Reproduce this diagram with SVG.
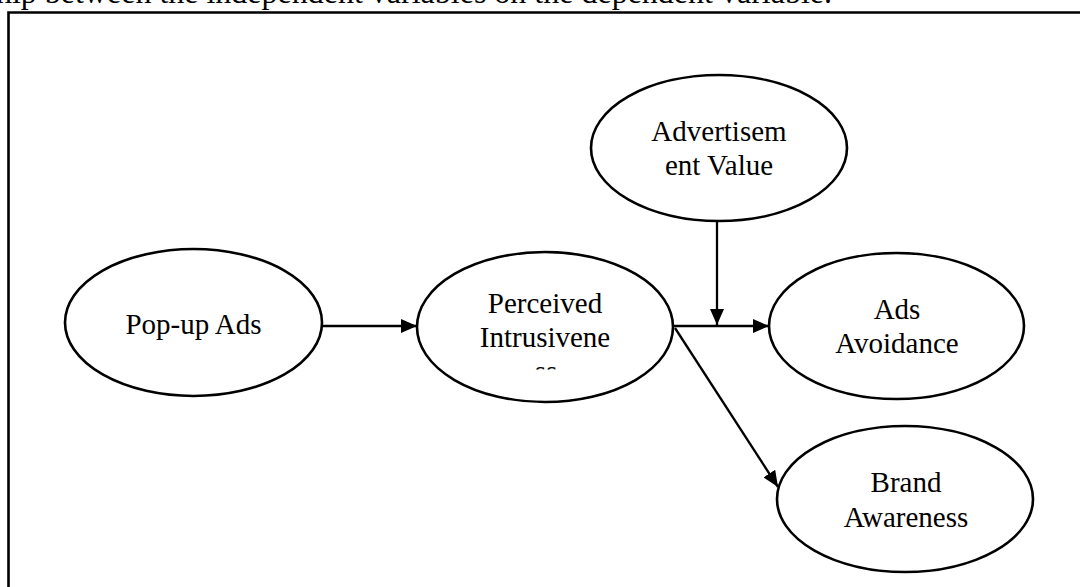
<svg xmlns="http://www.w3.org/2000/svg" width="1080" height="587" viewBox="0 0 1080 587">
  <style>
    .node { fill: #ffffff; stroke: #000000; stroke-width: 2.6; }
    .label { font-family: "Liberation Serif", "Times New Roman", serif; font-size: 29px; fill: #000000; text-anchor: middle; }
    .edge { stroke: #000000; stroke-width: 2.3; fill: none; marker-end: url(#arrow); }
    .caption { font-family: "Liberation Serif", "Times New Roman", serif; font-size: 32px; fill: #000000; text-anchor: end; }
  </style>
  <defs>
    <marker id="arrow" viewBox="0 0 16 14" refX="16" refY="7" markerWidth="16" markerHeight="14" markerUnits="userSpaceOnUse" orient="auto">
      <path d="M0,0 L16,7 L0,14 Z" fill="#000000"/>
    </marker>
    <clipPath id="clipPI">
      <rect x="440" y="280" width="210" height="89.5"/>
    </clipPath>
  </defs>
  <rect x="0" y="0" width="1080" height="587" fill="#ffffff"/>
  <text class="caption" x="832" y="3">hip between the independent variables on the dependent variable.</text>
  <g id="frame">
    <path d="M8.5,587 L8.5,12.5 L1080,12.5" fill="none" stroke="#000000" stroke-width="2.6"/>
  </g>
  <g id="connectors">
    <line class="edge" x1="322" y1="326" x2="417" y2="326"/>
    <line class="edge" x1="673" y1="326" x2="769" y2="326"/>
    <line class="edge" x1="717" y1="221" x2="717" y2="325"/>
    <line class="edge" x1="675" y1="328" x2="778" y2="487"/>
  </g>
  <g id="popup-ads">
    <ellipse class="node" cx="193.5" cy="322.5" rx="128.5" ry="73.5"/>
    <text class="label" x="193.5" y="334">Pop-up Ads</text>
  </g>
  <g id="perceived-intrusiveness">
    <ellipse class="node" cx="545" cy="327" rx="128" ry="75"/>
    <g clip-path="url(#clipPI)">
      <text class="label" x="545" y="313">Perceived</text>
      <text class="label" x="545" y="347">Intrusivene</text>
      <text class="label" x="546" y="381">ss</text>
    </g>
  </g>
  <g id="advertisement-value">
    <ellipse class="node" cx="719" cy="148" rx="128" ry="73"/>
    <text class="label" x="719" y="141">Advertisem</text>
    <text class="label" x="719" y="175">ent Value</text>
  </g>
  <g id="ads-avoidance">
    <ellipse class="node" cx="896.5" cy="326" rx="127.5" ry="73"/>
    <text class="label" x="897" y="319">Ads</text>
    <text class="label" x="897" y="353">Avoidance</text>
  </g>
  <g id="brand-awareness">
    <ellipse class="node" cx="905" cy="499" rx="128" ry="73"/>
    <text class="label" x="906" y="492">Brand</text>
    <text class="label" x="906" y="527">Awareness</text>
  </g>
</svg>
